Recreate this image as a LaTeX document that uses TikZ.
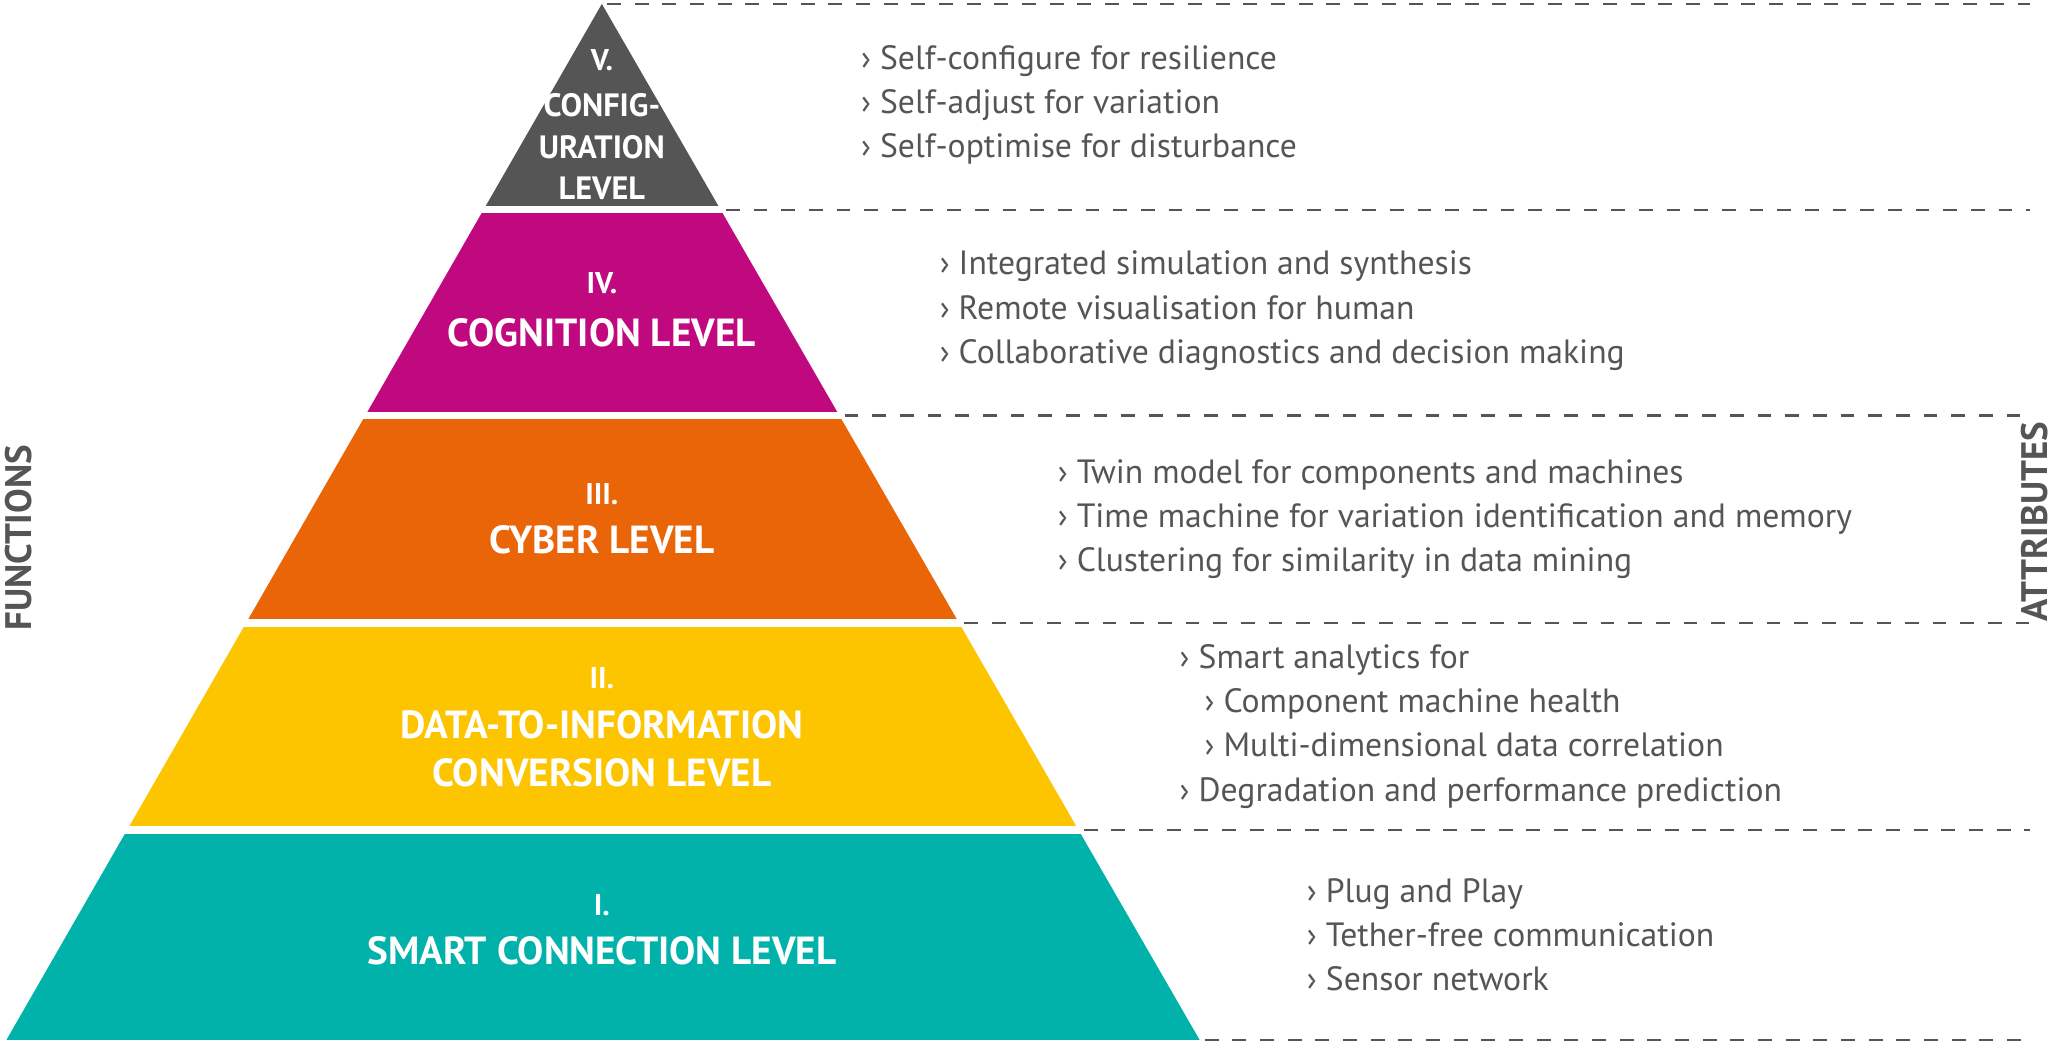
\documentclass[tikz,border=0pt]{standalone}
\usepackage{fontspec}
\setmainfont{PT Sans}
\usetikzlibrary{positioning}
\definecolor{lvlgray}{HTML}{555555}
\definecolor{lvlmagenta}{HTML}{C0097F}
\definecolor{lvlorange}{HTML}{EA6508}
\definecolor{lvlyellow}{HTML}{FDC400}
\definecolor{lvlteal}{HTML}{00B2AA}
\definecolor{txtgray}{HTML}{555555}
\tikzset{
  band/.style={draw=white, line width=1.5pt},
  lvlnum/.style={text=white, font=\fontsize{6.5}{7}\selectfont\bfseries},
  lvlname/.style={text=white, font=\fontsize{8.5}{10.5}\selectfont\bfseries, align=center},
  attr/.style={text=txtgray, anchor=west, font=\fontsize{7.3}{9.6}\selectfont, align=left, inner sep=0pt},
  sep/.style={txtgray, dashed, line width=0.5pt},
  side/.style={text=txtgray, font=\fontsize{8}{9}\selectfont\bfseries, rotate=90}
}
\begin{document}
\begin{tikzpicture}[x=0.01cm, y=-0.01cm]
\useasboundingbox (0,0) rectangle (1568,795);
% pyramid bands: top y / bottom y / colour
\def\lx#1{(459-0.5747*(#1))}
\def\rx#1{(459+0.577*(#1))}
\fill[lvlgray] (459,3) -- ({459-0.5747*157},160) -- ({459+0.577*157},160) -- cycle;
\foreach \ya/\yb/\col in {160/317/lvlmagenta, 317/475/lvlorange, 475/633/lvlyellow, 633/793/lvlteal}
  \fill[\col] ({459-0.5747*(\ya-3)},\ya) -- ({459-0.5747*(\yb-3)},\yb)
    -- ({459+0.577*(\yb-3)},\yb) -- ({459+0.577*(\ya-3)},\ya) -- cycle;
\foreach \y in {160,317,475,633}
  \draw[white, line width=1.6pt] (0,\y) -- (1000,\y);

% dashed separators
\draw[sep] (463,3) -- (1548,3);
\foreach \y in {160,317,475,633,793}
  \draw[sep] ({459+0.577*(\y-3)+4},\y) -- (1548,\y);

% level labels
\node[lvlnum] (n5) at (459,46) {V.};
\node[lvlname, font=\fontsize{7}{9}\selectfont\bfseries] (l5) at (459,112) {CONFIG-\\URATION\\LEVEL};
\node[lvlnum] (n4) at (459,216) {IV.};
\node[lvlname] (l4) at (459,254) {COGNITION LEVEL};
\node[lvlnum] (n3) at (459,377) {III.};
\node[lvlname] (l3) at (459,412) {CYBER LEVEL};
\node[lvlnum] (n2) at (459,517) {II.};
\node[lvlname] (l2) at (459,571) {DATA-TO-INFORMATION\\CONVERSION LEVEL};
\node[lvlnum] (n1) at (459,690) {I.};
\node[lvlname] (l1) at (459,725) {SMART CONNECTION LEVEL};

% attributes
\node[attr] (a5) at (656,80) {› Self-configure for resilience\\› Self-adjust for variation\\› Self-optimise for disturbance};
\node[attr] (a4) at (716,237) {› Integrated simulation and synthesis\\› Remote visualisation for human\\› Collaborative diagnostics and decision making};
\node[attr] (a3) at (806,396) {› Twin model for components and machines\\› Time machine for variation identification and memory\\› Clustering for similarity in data mining};
\node[attr] (a2) at (899,554) {› Smart analytics for\\\hspace{1.9mm}› Component machine health\\\hspace{1.9mm}› Multi-dimensional data correlation\\› Degradation and performance prediction};
\node[attr] (a1) at (996,713) {› Plug and Play\\› Tether-free communication\\› Sensor network};

% side titles
\node[side] (fn) at (14,410) {FUNCTIONS};
\node[side] (at) at (1552,398) {ATTRIBUTES};
\end{tikzpicture}
\end{document}
